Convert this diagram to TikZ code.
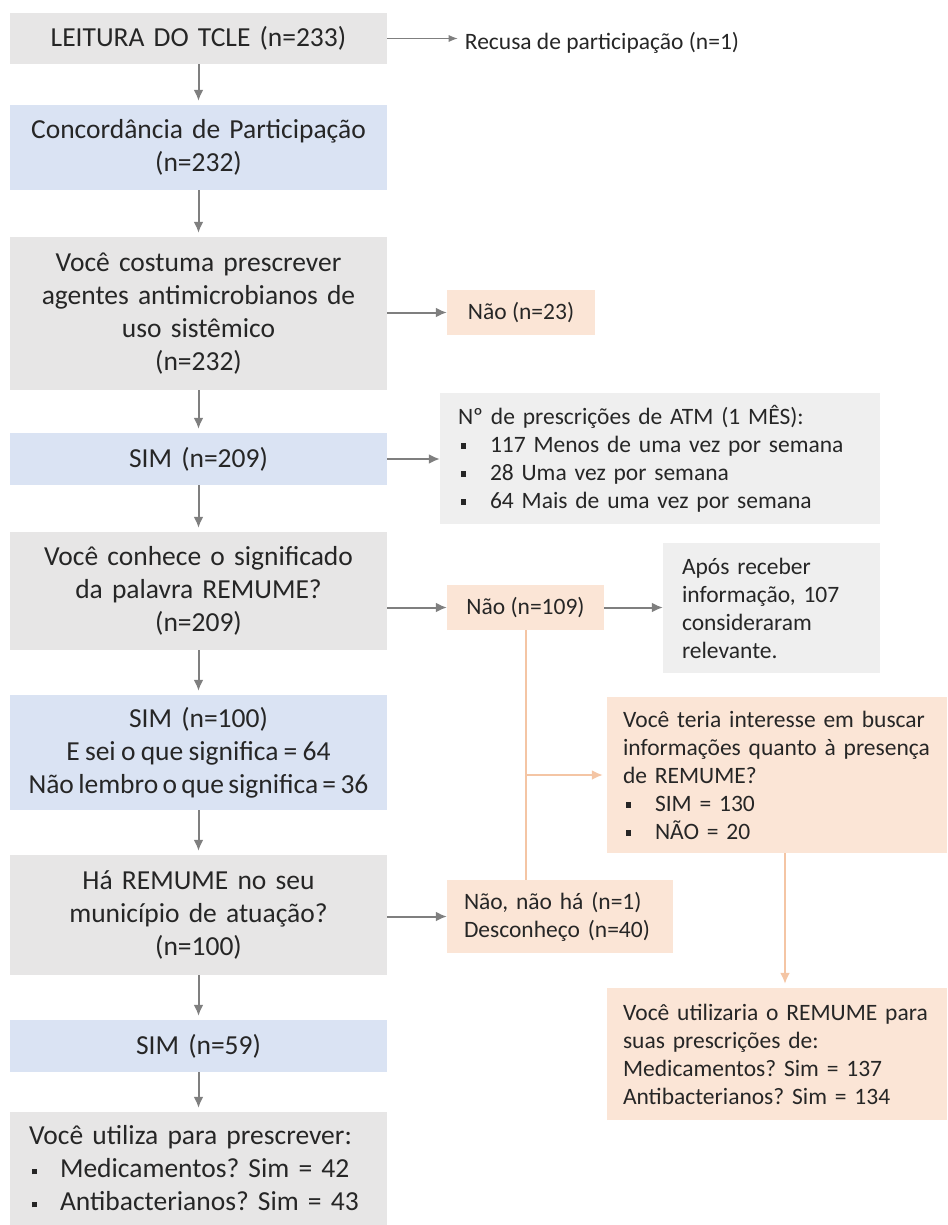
\documentclass[tikz,border=0pt]{standalone}
\usepackage{fontspec}
\setmainfont{Carlito}
\usepackage{xcolor}
\usetikzlibrary{arrows.meta,positioning,calc}
\definecolor{flInk}{HTML}{262626}
\definecolor{flGray}{HTML}{E7E6E6}
\definecolor{flLight}{HTML}{EFEFEF}
\definecolor{flBlue}{HTML}{DAE3F3}
\definecolor{flPeach}{HTML}{FBE5D6}
\definecolor{flArrow}{HTML}{7F7F7F}
\definecolor{flPeachLine}{HTML}{F4C5A4}
\frenchspacing
\newcommand{\bsq}[1]{\makebox[#1][l]{\hspace*{3pt}\rule[3.5pt]{4.5pt}{5.5pt}}}
\newcommand{\tightsp}{\spaceskip=0.14em plus 0.05em\relax}
\tikzset{
  bx/.style={draw=none, inner ysep=0pt, text=flInk, align=center},
  bxL/.style={bx, fill=flGray, inner xsep=0pt, text width=377pt, font=\fontsize{27.5}{33}\selectfont},
  bxLB/.style={bxL, fill=flBlue},
  bxR/.style={bx, align=left, font=\fontsize{23.5}{28}\selectfont},
  bxO/.style={bxR, fill=flPeach},
  bxG/.style={bxR, fill=flLight},
  arr/.style={-{Latex[length=11pt,width=10pt]}, line width=2pt, draw=flArrow, shorten >=4pt},
  arrO/.style={arr, draw=flPeachLine},
}
\begin{document}
\begin{tikzpicture}[x=1pt,y=-1pt]
  \useasboundingbox (0,0) rectangle (947,1225);
  % main column
  \node[bxL, minimum height=51pt] (lei) at (198.5,38.5) {LEITURA DO TCLE (n=233)};
  \node[bxLB, minimum height=85pt] (conc) at (198.5,147.5) {Concordância de Participação\\(n=232)};
  \node[bxL, minimum height=153pt] (cost) at (198.5,313.5) {Você costuma prescrever\\agentes antimicrobianos de\\uso sistêmico\\(n=232)};
  \node[bxLB, minimum height=52pt] (sim1) at (198.5,459) {SIM (n=209)};
  \node[bxL, minimum height=118pt] (conh) at (198.5,591) {Você conhece o significado\\da palavra REMUME?\\(n=209)};
  \node[bxLB, minimum height=115pt] (sim2) at (198.5,752.5)
    {SIM (n=100)\\\tightsp E sei o que significa = 64\\\tightsp Não lembro o que significa = 36};
  \node[bxL, minimum height=120pt] (ha) at (198.5,915) {Há REMUME no seu\\município de atuação?\\(n=100)};
  \node[bxLB, minimum height=52pt] (sim3) at (198.5,1046) {SIM (n=59)};
  \node[bxL, align=left, inner xsep=19pt, text width=339pt, minimum height=113pt] (util) at (198.5,1168.5)
    {Você utiliza para prescrever:\\\bsq{31pt}Medicamentos? Sim = 42\\\bsq{31pt}Antibacterianos? Sim = 43};
  % side boxes
  \node[bxR, inner xsep=7pt] (rec) at (602,43) {Recusa de participação (n=1)};
  \node[bxO, minimum width=148pt, minimum height=45pt] (n23) at (521,312.5) {Não (n=23)};
  \node[bxG, inner xsep=18pt, text width=404pt, minimum height=131pt] (atm) at (660,458.5)
    {Nº de prescrições de ATM (1 MÊS):\\\bsq{32pt}117 Menos de uma vez por semana\\\bsq{32pt}28 Uma vez por semana\\\bsq{32pt}64 Mais de uma vez por semana};
  \node[bxO, minimum width=157pt, minimum height=45pt] (n109) at (525.5,607.5) {Não (n=109)};
  \node[bxG, inner xsep=19pt, text width=179pt, minimum height=130pt] (apos) at (771.5,608)
    {Após receber\\informação, 107\\consideraram\\relevante.};
  \node[bxO, inner xsep=16pt, text width=308pt, minimum height=156pt] (teria) at (777,775)
    {Você teria interesse em buscar\\informações quanto à presença\\de REMUME?\\\bsq{32pt}SIM = 130\\\bsq{32pt}NÃO = 20};
  \node[bxO, inner xsep=17pt, text width=192pt, minimum height=73pt] (nnh) at (560,916.5)
    {Não, não há (n=1)\\Desconheço (n=40)};
  \node[bxO, inner xsep=16pt, text width=308pt, minimum height=132pt] (utiliz) at (777,1054)
    {Você utilizaria o REMUME para\\suas prescrições de:\\Medicamentos? Sim = 137\\Antibacterianos? Sim = 134};
  % arrows down the column
  \foreach \a/\b in {lei/conc, conc/cost, cost/sim1, sim1/conh, conh/sim2, sim2/ha, ha/sim3, sim3/util}
    \draw[arr] (\a) -- (\b);
  % arrows to the side
  \draw[arr, line width=1pt, -{Latex[length=9pt,width=7pt]}, shorten >=0pt] (lei.east) -- (lei.east -| rec.west);
  \draw[arr, shorten >=0pt] (cost.east |- n23.west) -- (n23.west);
  \draw[arr, shorten >=0pt] (sim1.east) -- (sim1.east -| atm.west);
  \draw[arr, shorten >=0pt] (conh.east |- n109.west) -- (n109.west);
  \draw[arr, shorten >=0pt] (n109.east) -- (n109.east -| apos.west);
  \draw[arr, shorten >=0pt] (ha.east |- nnh.west) -- (nnh.west);
  % peach branch
  \draw[line width=2pt, flPeachLine] (n109.south) -- (n109.south |- nnh.north);
  \draw[arrO] (n109.south |- teria.west) -- (teria.west);
  \draw[arrO] ([xshift=8pt]teria.south) -- ([xshift=8pt]utiliz.north);
\end{tikzpicture}
\end{document}
